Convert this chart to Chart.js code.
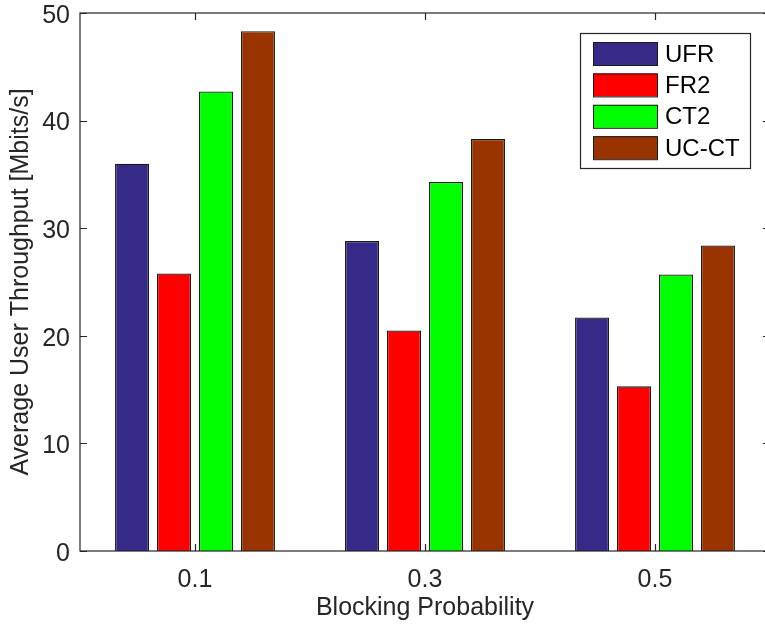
<!DOCTYPE html>
<html>
<head>
<meta charset="utf-8">
<script src="https://cdn.jsdelivr.net/npm/chart.js@4/dist/chart.umd.min.js"></script>
<style>
    html, body { margin: 0; padding: 0; background: #ffffff; overflow: hidden; }
    #wrap { width: 772px; height: 624px; }
</style>
</head>
<body>
<div id="wrap"><canvas id="chart" width="772" height="624"></canvas></div>
<script>
// Datos
const categories = ['0.1', '0.3', '0.5'];
const seriesNames = ['UFR', 'FR2', 'CT2', 'UC-CT'];
const ufr = [36.0, 28.8, 21.7];
const fr2 = [25.8, 20.5, 15.3];
const ct2 = [42.7, 34.3, 25.7];
const ucct = [48.3, 38.3, 28.4];
const yTicks = [0, 10, 20, 30, 40, 50];

const colors = ['#352a87', '#ff0000', '#00ff00', '#993300'];
const textColor = '#262626';
const fontFamily = '"Liberation Sans", Arial, Helvetica, sans-serif';
const fontSize = 25;

// Caja estilo MATLAB con marcas hacia dentro + leyenda
const boxPlugin = {
    id: 'matlabBox',
    afterDatasetsDraw(chart) {
        const { ctx, chartArea: a, scales } = chart;
        const tick = 7;
        ctx.save();
        ctx.strokeStyle = textColor;
        ctx.lineWidth = 1.2;
        ctx.strokeRect(a.left, a.top, a.right - a.left, a.bottom - a.top);
        ctx.beginPath();
        yTicks.forEach(v => {
            const y = Math.round(scales.y.getPixelForValue(v)) + 0.5;
            ctx.moveTo(a.left, y); ctx.lineTo(a.left + tick, y);
            ctx.moveTo(a.right, y); ctx.lineTo(a.right - tick, y);
        });
        categories.forEach((c, i) => {
            const x = Math.round(scales.x.getPixelForValue(i)) + 0.5;
            ctx.moveTo(x, a.bottom); ctx.lineTo(x, a.bottom - tick);
            ctx.moveTo(x, a.top); ctx.lineTo(x, a.top + tick);
        });
        ctx.stroke();

        // Leyenda
        const lx = 580, ly = 33, lw = 170, lh = 135;
        ctx.fillStyle = '#ffffff';
        ctx.fillRect(lx, ly, lw, lh);
        ctx.lineWidth = 1.2;
        ctx.strokeRect(lx + 0.5, ly + 0.5, lw, lh);
        ctx.font = '24px ' + fontFamily;
        ctx.textBaseline = 'middle';
        chart.data.datasets.forEach((ds, i) => {
            const sy = 42 + i * 31.4;
            ctx.fillStyle = ds.backgroundColor;
            ctx.fillRect(593, sy, 64, 23);
            ctx.strokeStyle = '#1a1a1a';
            ctx.lineWidth = 1;
            ctx.strokeRect(593.5, sy + 0.5, 64, 23);
            ctx.fillStyle = '#000000';
            ctx.fillText(ds.label, 665, sy + 13);
        });
        ctx.restore();
    }
};

const seriesValues = [ufr, fr2, ct2, ucct];

new Chart(document.getElementById('chart'), {
    type: 'bar',
    data: {
        labels: categories,
        datasets: seriesNames.map((name, i) => ({
            label: name,
            data: seriesValues[i],
            backgroundColor: colors[i],
            borderColor: '#1a1a1a',
            borderWidth: 1.3,
            categoryPercentage: 0.73,
            barPercentage: 0.81
        }))
    },
    options: {
        responsive: false,
        animation: false,
        layout: { padding: { left: 0, top: 13, right: 2, bottom: 0 } },
        plugins: {
            legend: { display: false },
            tooltip: { enabled: false }
        },
        scales: {
            x: {
                grid: { display: false, drawTicks: false },
                border: { display: false },
                ticks: { color: textColor, font: { size: fontSize, family: fontFamily }, padding: 14 },
                title: {
                    display: true, text: 'Blocking Probability', color: textColor,
                    font: { size: fontSize, family: fontFamily }, padding: { top: 0, bottom: 1 }
                },
                afterFit: (s) => { s.height = 73; s.paddingLeft = 0; s.paddingRight = 0; }
            },
            y: {
                min: 0, max: 50,
                grid: { display: false, drawTicks: false },
                border: { display: false },
                ticks: { stepSize: 10, color: textColor, font: { size: fontSize, family: fontFamily }, padding: 10, labelOffset: 3 },
                title: {
                    display: true, text: 'Average User Throughput [Mbits/s]', color: textColor,
                    font: { size: fontSize, family: fontFamily }, padding: { top: 6, bottom: 0 }
                },
                afterFit: (s) => { s.width = 80; s.paddingTop = 0; s.paddingBottom = 0; }
            }
        }
    },
    plugins: [boxPlugin]
});
</script>
</body>
</html>
